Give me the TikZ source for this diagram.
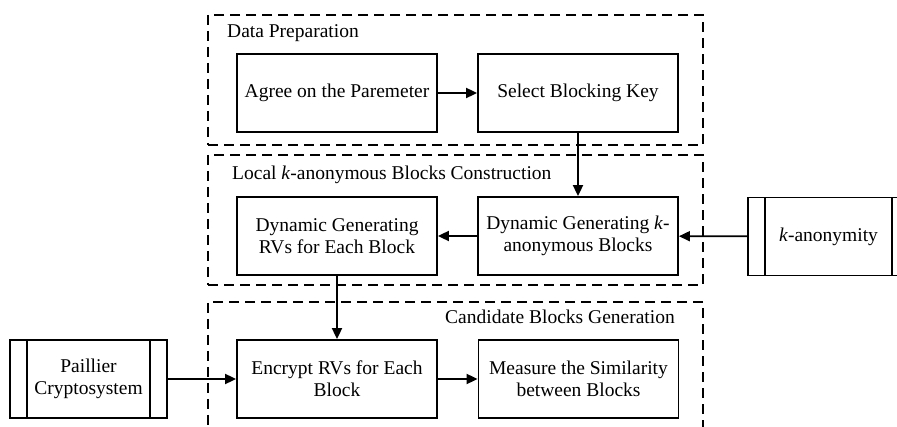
\documentclass[tikz,border=0pt]{standalone}
\usepackage{fontspec}
\setmainfont{Liberation Serif}
\usetikzlibrary{arrows.meta}
\tikzset{
  stagebox/.style={draw, line width=1.8pt, rectangle, inner sep=0pt,
    minimum width=200pt, minimum height=78pt, align=center,
    font=\fontsize{19.5}{22}\selectfont},
  extbox/.style={stagebox, minimum width=#1,
    path picture={
      \draw[line width=1.8pt]
        ([xshift=17pt]path picture bounding box.north west) --
        ([xshift=17pt]path picture bounding box.south west);
      \draw[line width=1.8pt]
        ([xshift=-17pt]path picture bounding box.north east) --
        ([xshift=-17pt]path picture bounding box.south east);
    }},
  group/.style={draw, line width=1.8pt, dash pattern=on 10pt off 6pt,
    rectangle, inner sep=0pt, minimum width=495pt},
  grouptitle/.style={inner sep=0pt, font=\fontsize{19.5}{22}\selectfont},
  flow/.style={line width=1.8pt, -{Triangle[length=11pt,width=10pt]}}
}
\begin{document}
\begin{tikzpicture}[x=1pt, y=-1pt]
  \useasboundingbox (0,0) rectangle (897,427);
  \clip (0,0) rectangle (897,427);

  % dashed stage groups
  \node[group, minimum height=130pt] (g1) at (455.5,80) {};
  \node[group, minimum height=130pt] (g2) at (455.5,220) {};
  \node[group, minimum height=145pt] (g3) at (455.5,374.5) {};

  \node[grouptitle, anchor=west] (t1) at (227,33) {Data Preparation};
  \node[grouptitle, anchor=west] (t2) at (232,175)
    {Local \textit{k}-anonymous Blocks Construction};
  \node[grouptitle, anchor=east] (t3) at (675,317) {Candidate Blocks Generation};

  % processing steps
  \node[stagebox] (agree)   at (337,93)  {Agree on the Paremeter};
  \node[stagebox] (select)  at (578,93)  {Select Blocking Key};
  \node[stagebox] (dynrv)   at (337,236) {Dynamic Generating\\RVs for Each Block};
  \node[stagebox] (dynk)    at (578,236) {Dynamic Generating \textit{k}-\\anonymous Blocks};
  \node[stagebox] (encrypt) at (337,379) {Encrypt RVs for Each\\Block};
  \node[stagebox] (measure) at (578.5,379) {Measure the Similarity\\between Blocks};

  % external inputs
  \node[extbox=161pt] (kanon)    at (828.5,236.5) {\textit{k}-anonymity};
  \node[extbox=157pt] (paillier) at (88.5,379)   {Paillier\\Cryptosystem};

  % connectors
  \draw[flow] (agree) -- (select);
  \draw[flow] (select) -- (dynk);
  \draw[flow] (dynk) -- (dynrv);
  \draw[flow] (kanon) -- (dynk);
  \draw[flow] (dynrv) -- (encrypt);
  \draw[flow] (paillier) -- (encrypt);
  \draw[flow] (encrypt) -- (measure);
\end{tikzpicture}
\end{document}
